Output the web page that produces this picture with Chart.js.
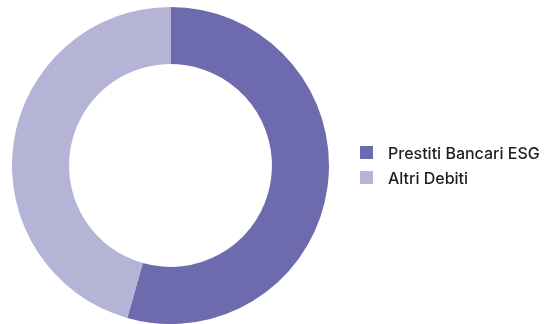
<!DOCTYPE html>
<html>
<head>
<meta charset="utf-8">
<script src="https://cdn.jsdelivr.net/npm/chart.js@4/dist/chart.umd.min.js"></script>
<style>
  html, body { margin: 0; padding: 0; background: #fff; overflow: hidden; width: 545px; height: 324px; }
  #wrap { position: absolute; left: 0; top: 0; width: 545px; height: 326px; }
  #legend { position: absolute; left: 360px; top: 140px; font-family: Inter, "Liberation Sans", sans-serif; font-weight: 500; font-size: 16px; color: #1e1e1e; }
  .item { display: flex; align-items: center; height: 25px; }
  .box { width: 13px; height: 13px; margin-right: 15px; flex: none; }
</style>
</head>
<body>
<div id="wrap"><canvas id="c" width="545" height="326"></canvas></div>
<div id="legend"></div>
<script>
const categories = ["Prestiti Bancari ESG", "Altri Debiti"];
const values = [54.4, 45.6];
const colors = ["#6E6AAE", "#B5B3D6"];

const chart = new Chart(document.getElementById('c'), {
  type: 'doughnut',
  data: {
    labels: categories,
    datasets: [{ data: values, backgroundColor: colors, borderWidth: 0, hoverOffset: 0 }]
  },
  options: {
    responsive: false,
    animation: false,
    cutout: '64%',
    layout: { padding: { left: 12, top: 7, right: 216, bottom: 2 } },
    plugins: { legend: { display: false }, tooltip: { enabled: false } }
  }
});

const leg = document.getElementById('legend');
categories.forEach((c, i) => {
  const it = document.createElement('div');
  it.className = 'item';
  const b = document.createElement('span');
  b.className = 'box';
  b.style.background = colors[i];
  const t = document.createElement('span');
  t.textContent = c;
  it.appendChild(b); it.appendChild(t);
  leg.appendChild(it);
});
</script>
</body>
</html>
